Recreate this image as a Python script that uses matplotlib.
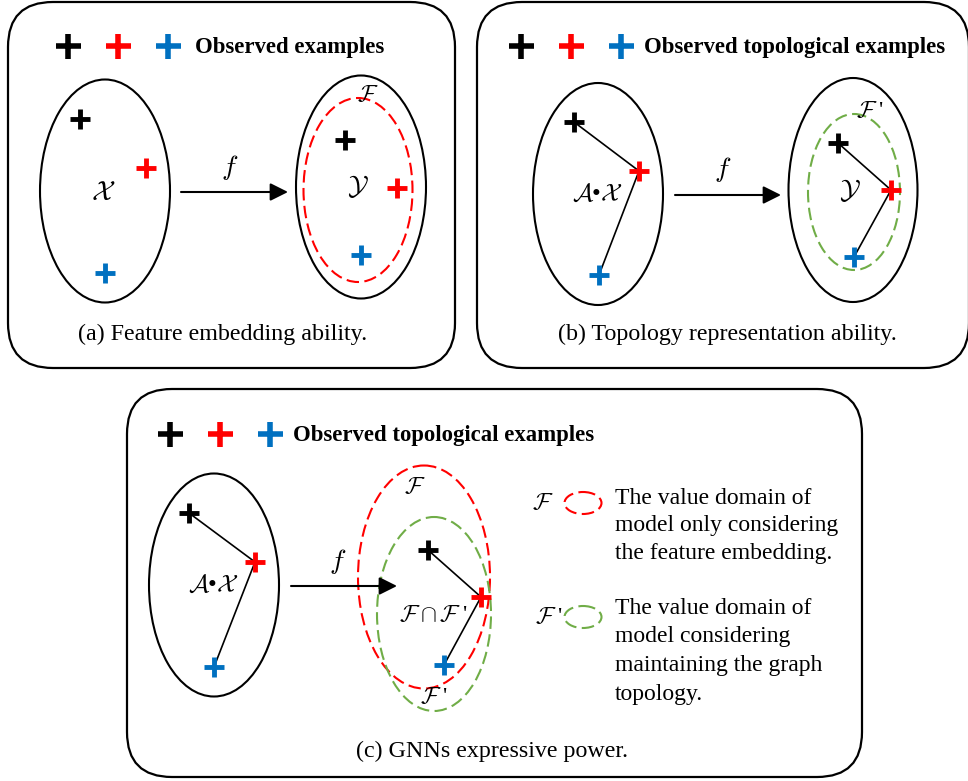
import matplotlib
matplotlib.use("Agg")
import matplotlib.pyplot as plt
from matplotlib.patches import Ellipse, FancyBboxPatch, FancyArrowPatch

plt.rcParams['font.family'] = ['Liberation Serif', 'DejaVu Serif']
plt.rcParams['mathtext.fontset'] = 'cm'

BLACK = '#000000'
RED = '#ff0000'
BLUE = '#0070c0'
GREEN = '#70ad47'
PLUS_COLORS = [BLACK, RED, BLUE]

# panel boxes (x0, y0, x1, y1) in pixels
BOX_A = (8, 2, 455, 368)
BOX_B = (477, 2, 969, 368)
BOX_C = (127, 389, 862, 777)

# legend crosses (x positions) and y per panel
LEG_A_X = [68, 118, 168]
LEG_B_X = [521, 571, 621]
LEG_C_X = [170, 220, 270]
LEG_Y = [46, 46, 434]
LEG_TEXT = ["Observed examples", "Observed topological examples",
            "Observed topological examples"]
LEG_TEXT_X = [195, 644, 293]

# points: black, red, blue
A_IN_X, A_IN_Y = [80, 146, 105], [119, 168, 273]
A_OUT_X, A_OUT_Y = [345, 397, 361], [140, 188, 255]
B_IN_X, B_IN_Y = [574, 639, 599], [122, 171, 275]
B_OUT_X, B_OUT_Y = [838, 891, 854], [143, 190, 257]
C_IN_X, C_IN_Y = [189, 255, 214], [513, 562, 667]
C_OUT_X, C_OUT_Y = [428, 481, 444], [550, 597, 665]

CAPTIONS = ["(a) Feature embedding ability.",
            "(b) Topology representation ability.",
            "(c) GNNs expressive power."]
CAPTION_POS = [(223, 334), (727, 334), (492, 751)]

NOTE_F = ["The value domain of", "model only considering",
          "the feature embedding."]
NOTE_FP = ["The value domain of", "model considering",
           "maintaining the graph", "topology."]

AX_LABEL = r'$\mathcal{A}$' + '\u2022' + r'$\mathcal{X}$'
FP_LABEL = r'$\mathcal{F}$' + " '"

fig = plt.figure(figsize=(9.68, 7.81), dpi=100)
ax = fig.add_axes([0, 0, 1, 1])
ax.set_xlim(0, 968)
ax.set_ylim(781, 0)
ax.set_aspect('auto')
ax.axis('off')


def box(b, r=45):
    x0, y0, x1, y1 = b
    ax.add_patch(FancyBboxPatch((x0, y0), x1 - x0, y1 - y0,
                                boxstyle=f"round,pad=0,rounding_size={r}",
                                fc='none', ec='black', lw=1.6, zorder=1))


def ell(cx, cy, w, h, color='black', dashed=False, lw=1.5):
    ls = (0, (6, 2.6)) if dashed else '-'
    ax.add_patch(Ellipse((cx, cy), w, h, fill=False, ec=color, lw=lw,
                         ls=ls, zorder=2))


def crosses(xs, ys, ms=14, mew=3.5):
    for x, y, c in zip(xs, ys, PLUS_COLORS):
        ax.plot([x], [y], ls='none', marker='+', ms=ms, mew=mew, color=c,
                zorder=6)


def links(xs, ys):
    ax.plot(xs, ys, color='black', lw=1.2, zorder=4)


def arrow(x0, x1, y):
    ax.add_patch(FancyArrowPatch((x0, y), (x1, y),
                                 arrowstyle='-|>,head_length=0.9,head_width=0.45',
                                 mutation_scale=12, color='black', lw=1.5,
                                 shrinkA=0, shrinkB=0, zorder=3))


def math(x, y, s, size=17):
    ax.text(x, y, s, fontsize=size, ha='center', va='center', zorder=7)


for b in (BOX_A, BOX_B, BOX_C):
    box(b)

# legends
for lx, ly, txt, tx in zip((LEG_A_X, LEG_B_X, LEG_C_X), LEG_Y, LEG_TEXT, LEG_TEXT_X):
    crosses(lx, [ly] * 3, ms=18, mew=4)
    ax.text(tx, ly + 2, txt, fontsize=16.4, fontweight='bold', ha='left',
            va='center')

# captions
for txt, (cx, cy) in zip(CAPTIONS, CAPTION_POS):
    ax.text(cx, cy, txt, fontsize=17.3, ha='center', va='center')

# ---- panel (a)
ell(105, 191, 130, 223)
ell(361, 187, 130, 223)
ell(358, 190, 109, 184, RED, dashed=True)
crosses(A_IN_X, A_IN_Y)
crosses(A_OUT_X, A_OUT_Y)
math(103, 193, r'$\mathcal{X}$', 20)
math(358, 187, r'$\mathcal{Y}$', 20)
math(368, 96, r'$\mathcal{F}$', 17)
arrow(181, 288, 192)
math(230, 168, r'$f$', 20)

# ---- panel (b)
ell(598, 194, 130, 222)
ell(853, 190, 129, 224)
ell(854, 192, 92, 156, GREEN, dashed=True)
links(B_IN_X, B_IN_Y)
links(B_OUT_X, B_OUT_Y)
crosses(B_IN_X, B_IN_Y)
crosses(B_OUT_X, B_OUT_Y)
math(597, 195, AX_LABEL, 18)
math(850, 190, r'$\mathcal{Y}$', 20)
math(870, 112, FP_LABEL, 17)
arrow(675, 781, 195)
math(723, 170, r'$f$', 20)

# ---- panel (c)
ell(214, 585, 130, 223)
ell(424, 577, 132, 223, RED, dashed=True)
ell(434, 614, 114, 194, GREEN, dashed=True)
links(C_IN_X, C_IN_Y)
links(C_OUT_X, C_OUT_Y)
crosses(C_IN_X, C_IN_Y)
crosses(C_OUT_X, C_OUT_Y)
math(213, 586, AX_LABEL, 18)
math(415, 487, r'$\mathcal{F}$', 17)
math(434, 615, r'$\mathcal{F}\cap\mathcal{F}$' + " '", 17)
math(434, 697, FP_LABEL, 17)
arrow(291, 397, 586)
math(338, 562, r'$f$', 20)

# side notes
math(543, 503, r'$\mathcal{F}$', 17)
ell(583, 503, 37, 22, RED, dashed=True)
for i, line in enumerate(NOTE_F):
    ax.text(615, 498 + i * 28, line, fontsize=17, ha='left', va='center')
math(549, 617, FP_LABEL, 17)
ell(583, 617, 37, 22, GREEN, dashed=True)
for i, line in enumerate(NOTE_FP):
    ax.text(615, 608 + i * 28.7, line, fontsize=17, ha='left', va='center')

fig.savefig('out.png', dpi=100)
